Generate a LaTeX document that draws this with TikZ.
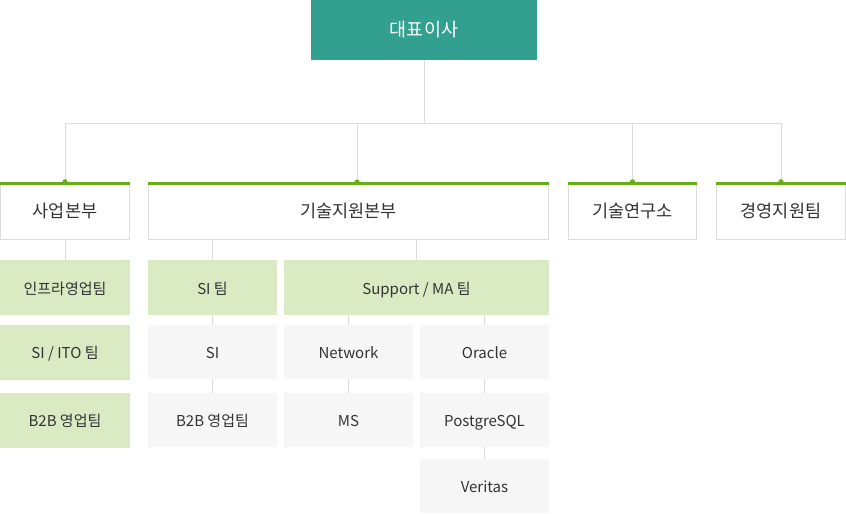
\documentclass[tikz,border=0pt]{standalone}
\usepackage{fontspec}
\setmainfont{Noto Sans CJK KR}
\usepackage{tikz}
\usetikzlibrary{positioning, calc}
\definecolor{orteal}  {HTML}{33A08F}
\definecolor{orgreen} {HTML}{66AF12}
\definecolor{orline}  {HTML}{DDDDDD}
\definecolor{orleaf}  {HTML}{DAEAC3}
\definecolor{orgray}  {HTML}{F6F6F6}
\definecolor{ortext}  {HTML}{333333}
\begin{document}
\begin{tikzpicture}[
  x=1pt, y=-1pt,
  every node/.style={font=\fontsize{15}{17}\selectfont, text=ortext, inner sep=0pt,
                     text height=1.3em, text depth=0pt},
  ceo/.style={rectangle, minimum width=226pt, minimum height=60pt, fill=orteal,
              text=white, font=\fontsize{18.5}{21}\selectfont},
  hq/.style={rectangle, minimum height=56pt, draw=orline, fill=white,
             font=\fontsize{17.5}{20}\selectfont},
  team/.style={rectangle, minimum height=55pt, fill=orleaf},
  part/.style={rectangle, minimum width=129pt, minimum height=54pt, fill=orgray},
  link/.style={draw=orline, line width=1pt},
  topline/.style={draw=orgreen, line width=3pt},
]
\useasboundingbox (0,0) rectangle (846,514);

% -- Top: CEO ------------------------------------
\node[ceo] (ceo) at (424,30) {대표이사};
\coordinate (bus) at (424,123);

% -- Row 2: headquarters -------------------------
\node[hq, minimum width=129pt] (biz)  at (65,211)    {사업본부};
\node[hq, minimum width=400pt] (tech) at (348.5,211) {기술지원본부};
\node[hq, minimum width=128pt] (lab)  at (632.5,211) {기술연구소};
\node[hq, minimum width=129pt] (mgmt) at (781,211)   {경영지원팀};
\coordinate (techtop) at (357,183);

% -- Business teams ------------------------------
\node[team, minimum width=130pt] (infra) at (65,287.5) {인프라영업팀};
\node[team, minimum width=130pt] (sito)  at (65,352)   {SI / ITO 팀};
\node[team, minimum width=130pt] (btob)  at (65,420)   {B2B 영업팀};

% -- Tech support teams --------------------------
\node[team, minimum width=129pt] (siteam) at (212.5,287.5) {SI 팀};
\node[team, minimum width=265pt] (matm)   at (416.5,287.5) {Support / MA 팀};

\node[part] (si)      at (212.5,352) {SI};
\node[part] (btobsi)  at (212.5,420) {B2B 영업팀};
\node[part] (network) at (348.5,352) {Network};
\node[part] (ms)      at (348.5,420) {MS};
\node[part] (oracle)  at (484.5,352) {Oracle};
\node[part] (pgsql)   at (484.5,420) {PostgreSQL};
\node[part] (veritas) at (484.5,486) {Veritas};

% -- Connectors: CEO to headquarters --------------
\draw[link] (ceo.south) -- (bus);
\draw[link] (bus -| biz.north) -- (bus -| mgmt.north);
\foreach \n in {biz, techtop, lab, mgmt}
  \draw[link] (bus -| \n) -- (\n);

% -- Green top edges and dots ---------------------
\foreach \n in {biz, tech, lab, mgmt}
  \draw[topline] ([yshift=-1pt]\n.north west) -- ([yshift=-1pt]\n.north east);
\foreach \n in {biz.north, techtop, lab.north, mgmt.north}
  \fill[orgreen] (\n) ++(0,-1) circle (2.6pt);

% -- Connectors: lower levels ---------------------
\draw[link] (biz.south) -- (infra.north);
\draw[link] (tech.south -| siteam.north) -- (siteam.north);
\draw[link] (tech.south -| matm.north) -- (matm.north);
\draw[link] (siteam.south) -- (si.north);
\draw[link] (si.south) -- (btobsi.north);
\draw[link] (matm.south -| network.north) -- (network.north);
\draw[link] (matm.south -| oracle.north) -- (oracle.north);
\draw[link] (network.south) -- (ms.north);
\draw[link] (oracle.south) -- (pgsql.north);
\draw[link] (pgsql.south) -- (veritas.north);

\end{tikzpicture}
\end{document}
